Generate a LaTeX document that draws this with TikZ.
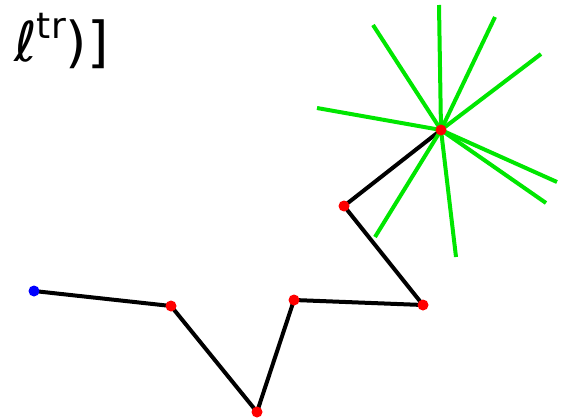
\documentclass[tikz,border=0pt]{standalone}
\usepackage{fontspec}
\setmainfont{DejaVu Sans}
\tikzset{
  dot/.style={circle,fill=#1,draw=none,minimum size=11pt,inner sep=0pt},
  chain/.style={line width=4pt,black},
  ray/.style={line width=4pt,color={rgb,255:red,0;green,230;blue,0}}
}
\begin{document}
\begin{tikzpicture}[x=1pt,y=-1pt]
\useasboundingbox (0,0) rectangle (578,420);
\node[anchor=base west,inner sep=0pt,font=\fontsize{55}{60}\selectfont] (title) at (14,62) {{\itshape ℓ}\raisebox{0.42em}{\fontsize{36}{40}\selectfont tr})]};
\coordinate (b) at (34,291);
\coordinate (c1) at (171,306);
\coordinate (c2) at (257,412);
\coordinate (c3) at (294,300);
\coordinate (c4) at (423,305);
\coordinate (c5) at (344,206);
\coordinate (c6) at (441,130);
\draw[chain] (b) -- (c1) -- (c2) -- (c3) -- (c4) -- (c5) -- (c6);
\coordinate (r1) at (317,108);
\coordinate (r2) at (373,25);
\coordinate (r3) at (439,5);
\coordinate (r4) at (495,17);
\coordinate (r5) at (541,54);
\coordinate (r6) at (557,182);
\coordinate (r7) at (546,203);
\coordinate (r8) at (456,257);
\coordinate (r9) at (375,237);
\foreach \r in {r1,r2,r3,r4,r5,r6,r7,r8,r9} \draw[ray] (c6) -- (\r);
\node[dot=blue] (nb) at (b) {};
\foreach \c in {c1,c2,c3,c4,c5,c6} \node[dot=red] (n\c) at (\c) {};
\end{tikzpicture}
\end{document}
